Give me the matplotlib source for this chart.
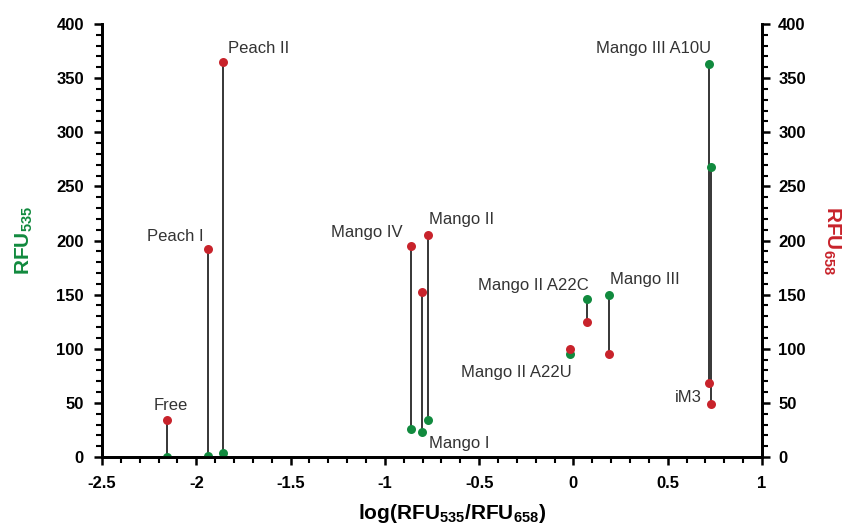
#!/usr/bin/env python

import numpy as np
import matplotlib
matplotlib.use('Agg')
import matplotlib.pyplot as plt
import matplotlib as mpl
from matplotlib.ticker import MultipleLocator

mpl.rcParams['font.family'] = 'Liberation Sans'
mpl.rcParams['font.size'] = 12
mpl.rcParams['mathtext.fontset'] = 'custom'
mpl.rcParams['mathtext.rm'] = 'Liberation Sans'
mpl.rcParams['mathtext.bf'] = 'Liberation Sans:bold'

# data
names = ['Free', 'Peach I', 'Peach II', 'Mango IV', 'Mango I', 'Mango II',
         'Mango II A22U', 'Mango II A22C', 'Mango III', 'Mango III A10U', 'iM3']
log_ratio = [-2.155, -1.938, -1.858, -0.862, -0.803, -0.771,
             -0.019, 0.072, 0.188, 0.718, 0.729]
rfu535 = [0, 1, 4, 26, 23, 34, 95, 146, 150, 363, 268]
rfu658 = [34, 192, 365, 195, 152, 205, 100, 125, 95, 68, 49]

green = '#118a3e'
red = '#c8232b'

# label placement: anchor at top or bottom point, offset in pixels
label_pos = {
    'Free': ('top', 4, 15, 'center'),
    'Peach I': ('top', -4, 13, 'right'),
    'Peach II': ('top', 5, 13, 'left'),
    'Mango IV': ('top', -8, 13, 'right'),
    'Mango II': ('top', 1, 16, 'left'),
    'Mango I': ('bottom', 7, -11, 'left'),
    'Mango II A22U': ('bottom', 2, -18, 'right'),
    'Mango II A22C': ('top', 2, 13, 'right'),
    'Mango III': ('top', 1, 15, 'left'),
    'Mango III A10U': ('top', 2, 16, 'right'),
    'iM3': ('bottom', -9, 6, 'right'),
}

fig = plt.figure(figsize=(8.46, 5.25), dpi=100)
ax = fig.add_axes([0.1206, 0.1295, 0.7801, 0.8248])

for x, g, r in zip(log_ratio, rfu535, rfu658):
    ax.plot([x, x], [g, r], color='black', lw=1.1, zorder=1)
ax.scatter(log_ratio, rfu535, s=42, color=green, zorder=3, linewidths=0)
ax.scatter(log_ratio, rfu658, s=42, color=red, zorder=3, linewidths=0)

for n, x, g, r in zip(names, log_ratio, rfu535, rfu658):
    where, dx, dy, ha = label_pos[n]
    y = max(g, r) if where == 'top' else min(g, r)
    ax.annotate(n, xy=(x, y), xytext=(dx, dy), textcoords='offset pixels',
                ha=ha, va='center', fontsize=12, color='#333333')

ax.set_xlim(-2.5, 1)
ax.set_ylim(0, 400)
ax.xaxis.set_minor_locator(MultipleLocator(0.1))
ax.yaxis.set_major_locator(MultipleLocator(50))
ax.yaxis.set_minor_locator(MultipleLocator(10))
ax.set_xticks([-2.5, -2, -1.5, -1, -0.5, 0, 0.5, 1])
ax.set_xticklabels(['-2.5', '-2', '-1.5', '-1', '-0.5', '0', '0.5', '1'])

ax2 = ax.twinx()
ax2.set_ylim(0, 400)
ax2.yaxis.set_major_locator(MultipleLocator(50))
ax2.yaxis.set_minor_locator(MultipleLocator(10))

for a in (ax, ax2):
    a.spines['top'].set_visible(False)
    for s in ('left', 'right', 'bottom'):
        a.spines[s].set_linewidth(2)
    a.tick_params(which='major', direction='out', length=6, width=1.8,
                  labelsize=12)
    a.tick_params(which='minor', direction='out', length=4, width=1.5)
    for lab in a.get_xticklabels() + a.get_yticklabels():
        lab.set_fontweight('bold')
ax.tick_params(axis='x', which='major', pad=7.8)
ax.tick_params(axis='y', which='major', pad=7.1)
ax2.tick_params(axis='y', which='major', pad=5.7)

ax.set_ylabel(r'$\mathbf{RFU_{535}}$', color=green, fontsize=15, labelpad=15)
ax2.set_ylabel(r'$\mathbf{RFU_{658}}$', color=red, fontsize=15,
               rotation=-90, labelpad=26)
ax.set_xlabel(r'$\mathbf{log(RFU_{535}/RFU_{658})}$', fontsize=15)
ax.xaxis.set_label_coords(0.53, -0.105)

plt.savefig('out.png', dpi=100)
